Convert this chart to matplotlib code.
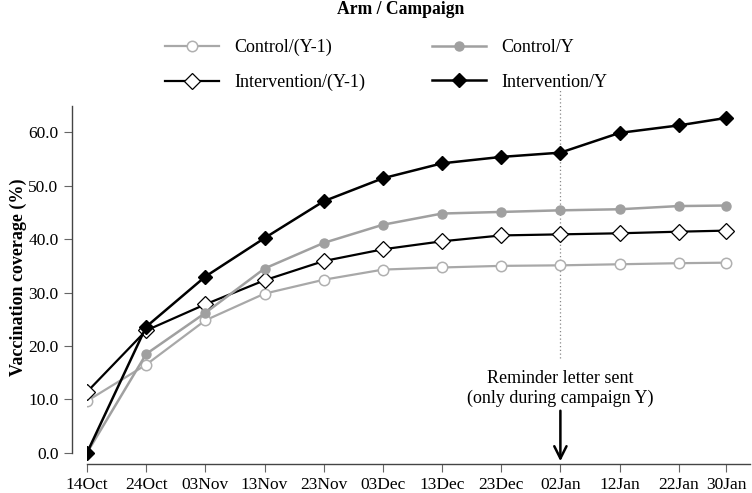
"""Vaccination coverage by arm / campaign (reminder letter figure)."""

import matplotlib
matplotlib.use("Agg")
import matplotlib.pyplot as plt

# x: days since 14 Oct, with the tick labels
DAYS = [0, 10, 20, 30, 40, 50, 60, 70, 80, 90, 100, 108]
TICK_LABELS = ["14Oct", "24Oct", "03Nov", "13Nov", "23Nov", "03Dec",
               "13Dec", "23Dec", "02Jan", "12Jan", "22Jan", "30Jan"]

# coverage (%)
CONTROL_PREV = [9.7, 16.5, 24.8, 29.8, 32.4, 34.3, 34.7, 35.0, 35.1, 35.3, 35.5, 35.6]
CONTROL_CUR = [0.0, 18.5, 26.2, 34.5, 39.3, 42.7, 44.8, 45.1, 45.4, 45.6, 46.2, 46.3]
INTERV_PREV = [11.4, 22.9, 27.8, 32.3, 35.9, 38.1, 39.6, 40.7, 40.9, 41.1, 41.4, 41.6]
INTERV_CUR = [0.0, 23.6, 33.0, 40.2, 47.1, 51.4, 54.2, 55.4, 56.2, 59.9, 61.3, 62.7]

REMINDER_DAY = 80


def main() -> None:
    plt.rcParams["font.family"] = ["Liberation Serif", "DejaVu Serif"]
    plt.rcParams["font.size"] = 12.5

    fig = plt.figure(figsize=(7.52, 4.93), dpi=100)
    ax = fig.add_axes([0.1157, 0.0588, 0.8813, 0.7594])

    ax.plot(DAYS, CONTROL_PREV, color="#a8a8a8", lw=1.6, marker="o", ms=7.5,
            mfc="white", mec="#b0b0b0", mew=1.1, label="Control/(Y-1)")
    ax.plot(DAYS, INTERV_PREV, color="black", lw=1.6, marker="D", ms=8,
            mfc="white", mec="black", mew=0.9, label="Intervention/(Y-1)")
    ax.plot(DAYS, CONTROL_CUR, color="#a0a0a0", lw=1.8, marker="o", ms=6.5,
            mfc="#a0a0a0", mec="#a0a0a0", label="Control/Y")
    ax.plot(DAYS, INTERV_CUR, color="black", lw=1.8, marker="D", ms=7,
            mfc="black", mec="black", label="Intervention/Y")

    # reminder letter marker
    ax.plot([REMINDER_DAY, REMINDER_DAY], [17.7, 68], color="#888888",
            lw=0.9, ls=(0, (1, 2)), zorder=0)
    ax.text(REMINDER_DAY, 12.0, "Reminder letter sent\n(only during campaign Y)",
            ha="center", va="center", linespacing=1.2, fontsize=13)
    ax.annotate("", xy=(REMINDER_DAY, -2.1), xytext=(REMINDER_DAY, 8.4),
                arrowprops=dict(arrowstyle="->", lw=1.8, color="black",
                                mutation_scale=22),
                annotation_clip=False)

    ax.set_xlim(0, 112)
    ax.set_ylim(-2.1, 68)
    ax.set_xticks(DAYS)
    ax.set_xticklabels(TICK_LABELS)
    ax.set_yticks(range(0, 61, 10))
    ax.set_yticklabels([f"{v:.1f}" for v in range(0, 61, 10)])
    ax.set_ylabel("Vaccination coverage (%)", fontweight="bold", fontsize=13,
                  labelpad=1)

    for side in ("top", "right"):
        ax.spines[side].set_visible(False)
    ax.spines["left"].set_position(("outward", 11))
    ax.spines["left"].set_bounds(0, 65)
    ax.spines["left"].set_color("#444444")
    ax.spines["bottom"].set_color("#444444")
    ax.spines["left"].set_linewidth(1.0)
    ax.spines["bottom"].set_linewidth(1.0)
    ax.tick_params(length=6, width=0.8, color="#666666", pad=3.5)

    fig.text(401 / 752, 1 - 9 / 493, "Arm / Campaign", ha="center",
             va="center", fontweight="bold", fontsize=12.7)
    fig.legend(loc="center", bbox_to_anchor=(386 / 752, 1 - 65 / 493), ncol=2,
               frameon=False, fontsize=13, handlelength=3.0,
               handletextpad=0.85, columnspacing=3.7, labelspacing=0.95,
               borderaxespad=0.0, borderpad=0.0)

    fig.savefig("out.png", dpi=100)


if __name__ == "__main__":
    main()
